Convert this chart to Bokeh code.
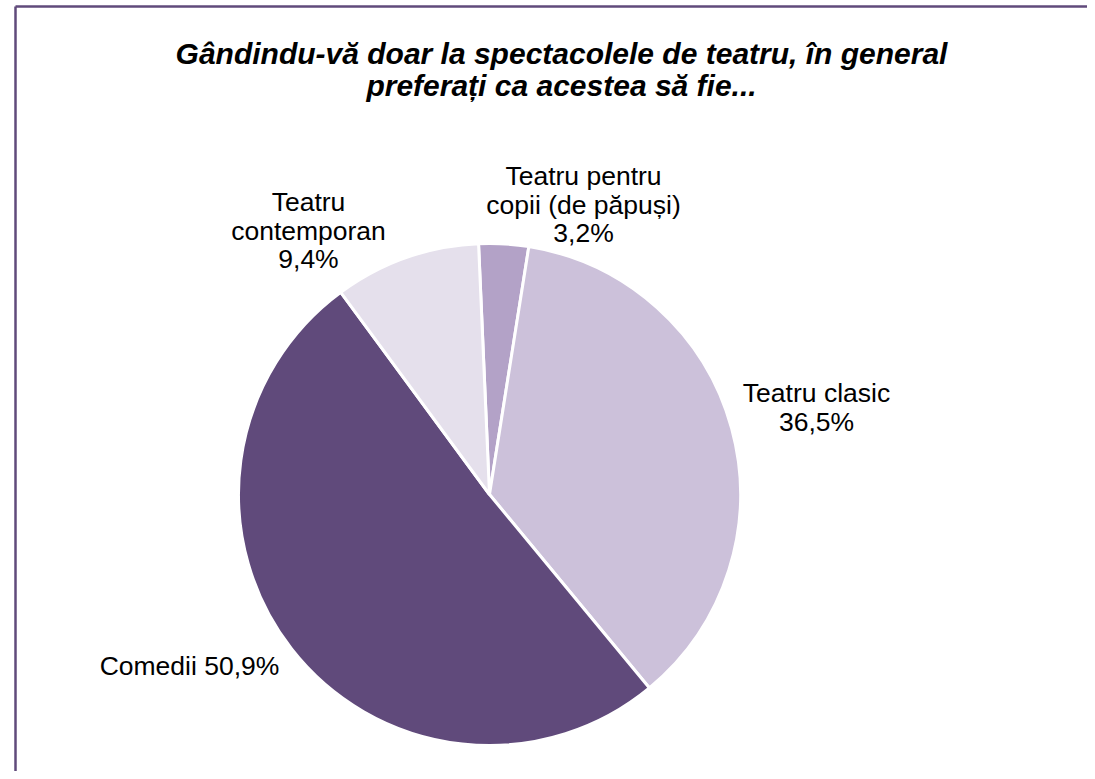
import numpy as np
from bokeh.plotting import figure
from bokeh.models import Range1d
from bokeh.core.properties import value
from bokeh.embed import file_html
from bokeh.resources import INLINE

# ---- data ----
categories = ["Teatru pentru copii (de păpuși)", "Teatru clasic", "Comedii", "Teatru contemporan"]
percents = [3.2, 36.5, 50.9, 9.4]
label_texts = ["Teatru pentru\ncopii (de păpuși)\n3,2%", "Teatru clasic\n36,5%", "Comedii 50,9%", "Teatru\ncontemporan\n9,4%"]
colors = ["#B3A2C7", "#CCC1DA", "#604A7B", "#E5E0EC"]
title_lines = ["Gândindu-vă doar la spectacolele de teatru, în general", "preferați ca acestea să fie..."]

W, H = 1087, 771
def sx(x):
    return x
def sy(y):
    return H - y

p = figure(width=W, height=H, output_backend="svg", toolbar_location=None,
           x_range=Range1d(0, W), y_range=Range1d(0, H), min_border=0)
p.axis.visible = False
p.grid.visible = False
p.outline_line_color = None
p.background_fill_color = "white"
p.border_fill_color = "white"

# frame
p.line([sx(15), sx(15)], [sy(790), sy(6)], line_color="#604A7B", line_width=2.5)
p.line([sx(15), sx(1100)], [sy(6), sy(6)], line_color="#604A7B", line_width=2.5)

# pie
cx, cy, r = sx(489), sy(494), 251
start_offset = -2.5  # degrees clockwise from 12 o'clock
frac = np.array(percents) / sum(percents)
cum = np.concatenate([[0], np.cumsum(frac)]) * 360 + start_offset
starts = np.deg2rad(90 - cum[:-1])
ends = np.deg2rad(90 - cum[1:])
p.wedge(x=cx, y=cy, radius=r, start_angle=starts, end_angle=ends, direction="clock",
        fill_color=colors, line_color="white", line_width=3)

# labels (block centers, screen coords)
label_pos = [(583, 204), (816, 407), (189, 665), (308, 230)]
p.text(x=[sx(a) for a, b in label_pos], y=[sy(b) for a, b in label_pos], text=label_texts,
       text_align="center", text_baseline="middle", text_font=value("Liberation Sans"),
       text_font_size="26.5px", text_color="black", text_line_height=0.95)

# title
p.text(x=[sx(561), sx(561)], y=[sy(53), sy(85)], text=title_lines,
       text_align="center", text_baseline="middle", text_font=value("Liberation Sans"),
       text_font_style="bold italic", text_font_size="30px", text_color="black")

open("out.html", "w").write(file_html(p, INLINE))
